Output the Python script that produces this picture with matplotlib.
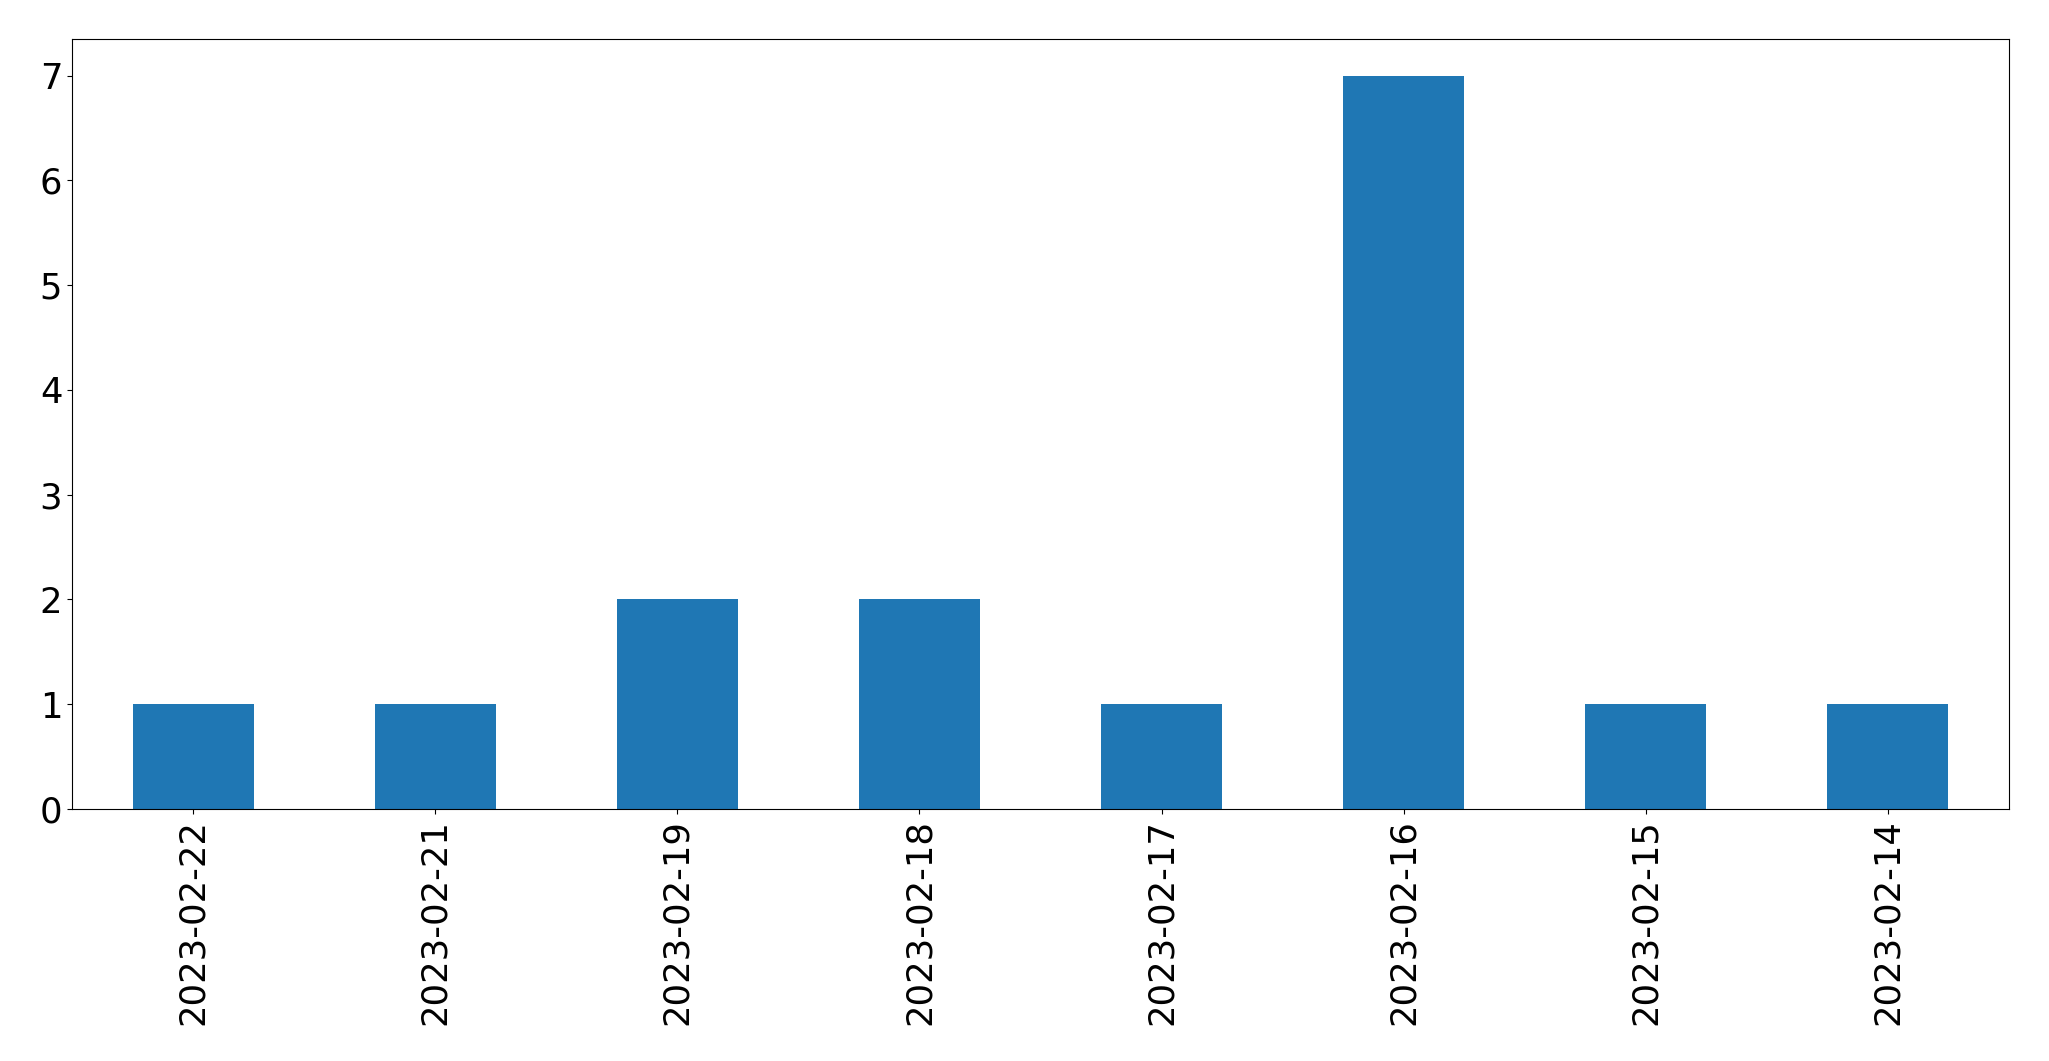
import matplotlib
matplotlib.use("Agg")
import matplotlib.pyplot as plt
import pandas as pd

dates = ['2023-02-22', '2023-02-21', '2023-02-19', '2023-02-18',
         '2023-02-17', '2023-02-16', '2023-02-15', '2023-02-14']
counts = [1, 1, 2, 2, 1, 7, 1, 1]

s = pd.Series(counts, index=dates)

fig = plt.figure(figsize=(20.49, 10.61), dpi=100)
ax = fig.add_axes([72 / 2049, 1 - 809 / 1061, (2009 - 72) / 2049, (809 - 39) / 1061])
s.plot(kind='bar', ax=ax, color='#1f77b4')
ax.tick_params(axis='both', labelsize=25.5)

fig.savefig('out.png', dpi=100)
